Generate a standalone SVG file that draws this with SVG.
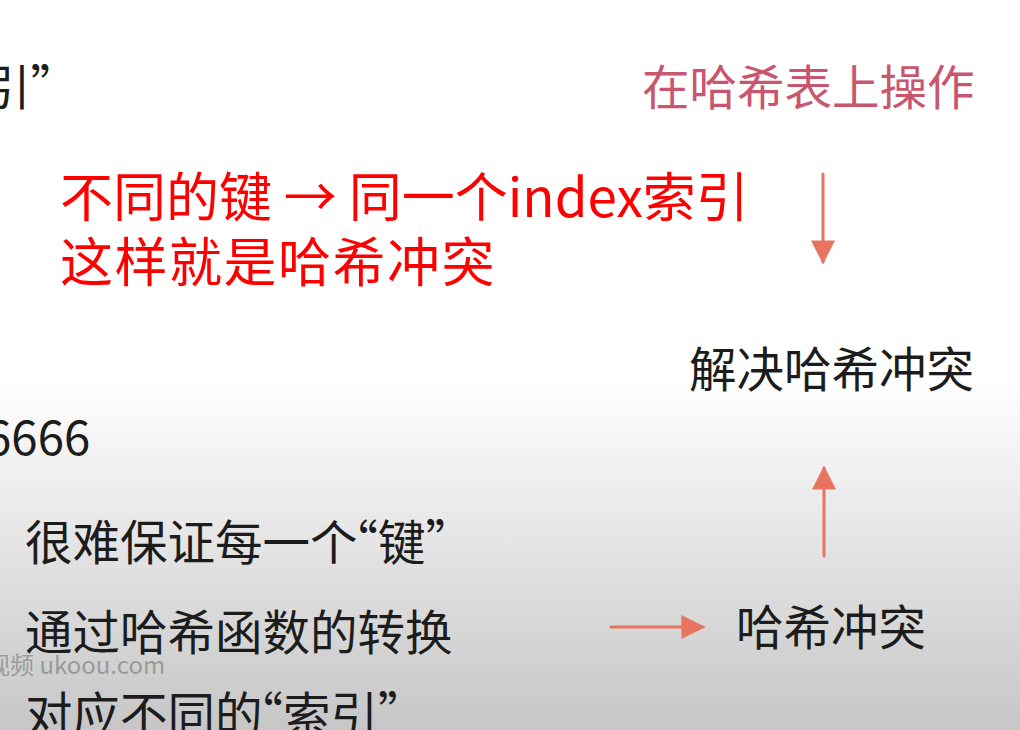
<svg xmlns="http://www.w3.org/2000/svg" width="1020" height="730" viewBox="0 0 1020 730">
<defs>
<linearGradient id="bg" x1="0" y1="0" x2="0" y2="730" gradientUnits="userSpaceOnUse">
<stop offset="0" stop-color="#ffffff"/>
<stop offset="0.52" stop-color="#ffffff"/>
<stop offset="1" stop-color="#c6c6c6"/>
</linearGradient>
<marker id="ah" viewBox="0 0 10 10" refX="9" refY="5" markerWidth="8" markerHeight="8" markerUnits="strokeWidth" orient="auto">
<path d="M0,0 L10,5 L0,10 z" fill="#e8735f"/>
</marker>
<style>
.t{font-family:"Noto Sans CJK SC","Noto Sans",sans-serif;font-size:47.5px;fill:#1c1c1c}
.pink{fill:#c9566f}
.red{font-family:"Noto Sans CJK SC","Noto Sans",sans-serif;font-size:53px;fill:#ff0000}
.wm{font-family:"Noto Sans CJK SC","Noto Sans",sans-serif;font-size:24px;fill:#9a9a9a}
.c{stroke:#e8735f;stroke-width:3;fill:none;stroke-linecap:round}
</style>
</defs>
<rect width="1020" height="730" fill="url(#bg)"/>
<g id="cut-suoyin"><text class="t" x="-17" y="105">引”</text></g>
<g id="op"><text class="t pink" x="642" y="105">在哈希表上操作</text></g>
<g id="note">
<text class="red" x="60" y="217">不同的键 → 同一个index索引</text>
<text class="red" x="60" y="282" letter-spacing="1.5">这样就是哈希冲突</text>
</g>
<g id="resolve"><text class="t" x="689" y="387">解决哈希冲突</text></g>
<g id="num"><text class="t" x="-15" y="455">6666</text></g>
<g id="body">
<text class="t" x="25" y="560">很难保证每一个<tspan dx="-27">“</tspan><tspan dx="0">键</tspan>”</text>
<text class="t" x="25" y="650">通过哈希函数的转换</text>
<text class="t" x="25" y="732">对应不同的<tspan dx="-27">“</tspan><tspan dx="0">索引</tspan>”</text>
</g>
<g id="watermark"><text class="wm" x="-14" y="674">视频 ukoou.com</text></g>
<g id="collision"><text class="t" x="736" y="645">哈希冲突</text></g>
<g id="connectors">
<line class="c" x1="823" y1="174" x2="823" y2="262" marker-end="url(#ah)"/>
<line class="c" x1="824" y1="556" x2="824" y2="468" marker-end="url(#ah)"/>
<line class="c" x1="611" y1="627" x2="703" y2="627" marker-end="url(#ah)"/>
</g>
</svg>
